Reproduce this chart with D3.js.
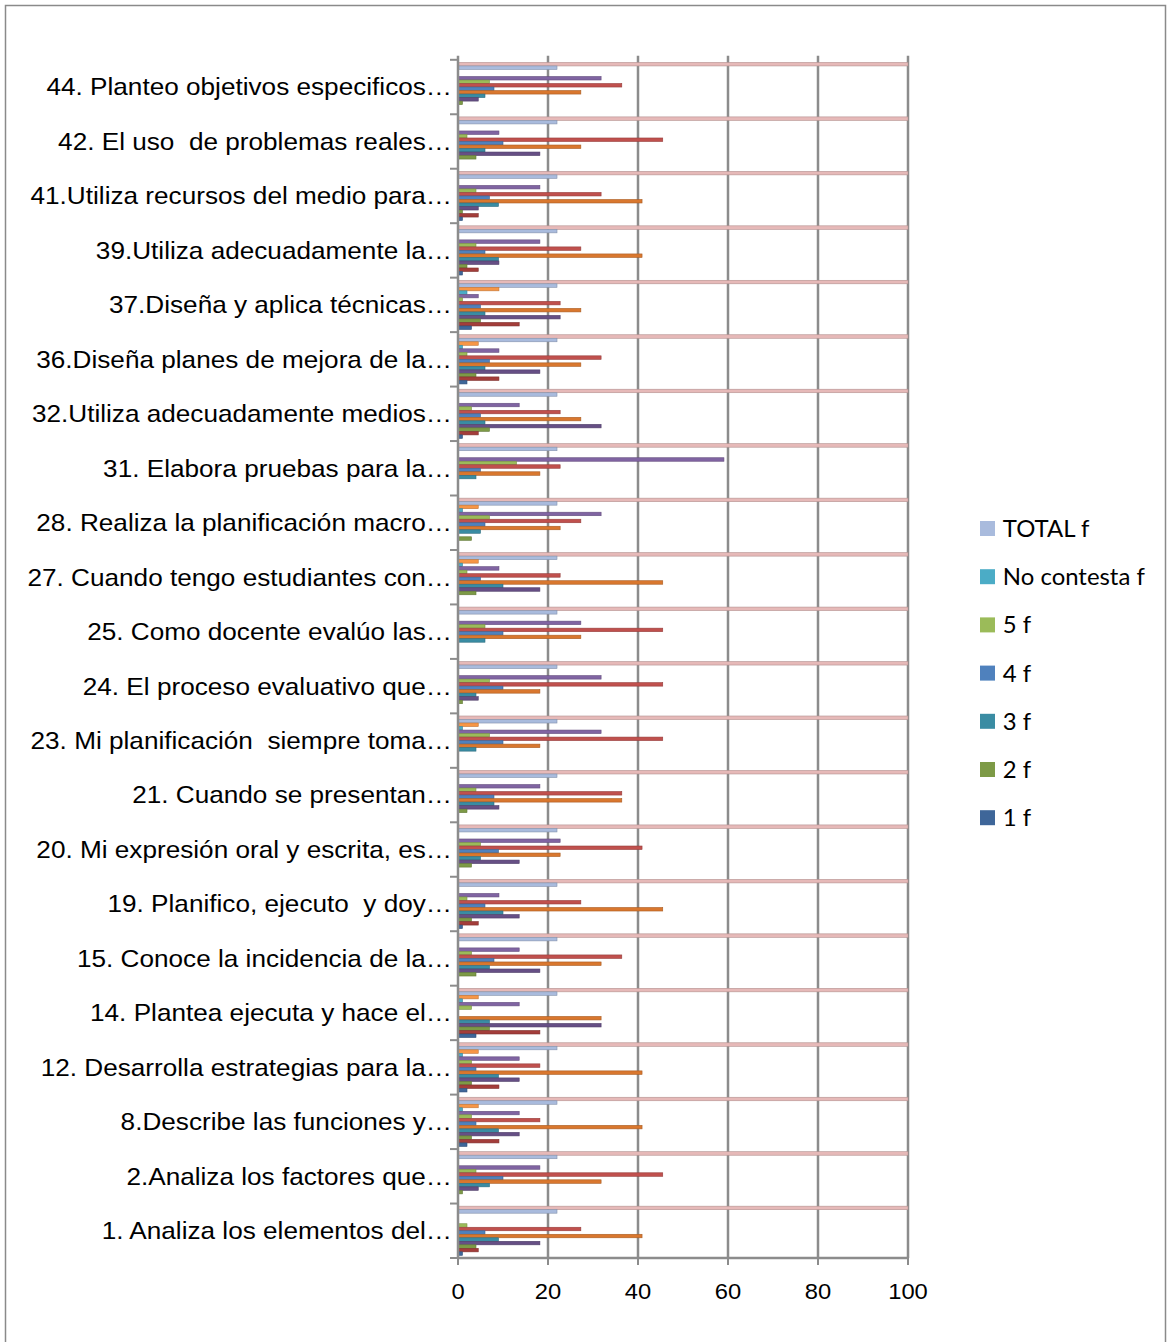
<!DOCTYPE html>
<html>
<head>
<meta charset="utf-8">
<script src="https://cdn.jsdelivr.net/npm/d3@7"></script>
<style>
  html, body { margin: 0; padding: 0; background: #fff; }
  svg { display: block; }
</style>
</head>
<body>
<svg id="chart" width="1172" height="1342"></svg>
<script>
// Survey items, listed top to bottom as they appear on the chart
const categories = [
  "44. Planteo objetivos especificos…",
  "42. El uso  de problemas reales…",
  "41.Utiliza recursos del medio para…",
  "39.Utiliza adecuadamente la…",
  "37.Diseña y aplica técnicas…",
  "36.Diseña planes de mejora de la…",
  "32.Utiliza adecuadamente medios…",
  "31. Elabora pruebas para la…",
  "28. Realiza la planificación macro…",
  "27. Cuando tengo estudiantes con…",
  "25. Como docente evalúo las…",
  "24. El proceso evaluativo que…",
  "23. Mi planificación  siempre toma…",
  "21. Cuando se presentan…",
  "20. Mi expresión oral y escrita, es…",
  "19. Planifico, ejecuto  y doy…",
  "15. Conoce la incidencia de la…",
  "14. Plantea ejecuta y hace el…",
  "12. Desarrolla estrategias para la…",
  "8.Describe las funciones y…",
  "2.Analiza los factores que…",
  "1. Analiza los elementos del…"
];

// Frequencies (f) and percentages (%) per answer level, same order as categories
const f1     = [0, 0, 1, 1, 3, 2, 1, 0, 0, 0, 0, 0, 0, 0, 0, 1, 0, 4, 2, 2, 0, 1];
const p1     = [0, 0, 4.5, 4.5, 13.6, 9.1, 4.5, 0, 0, 0, 0, 0, 0, 0, 0, 4.5, 0, 18.2, 9.1, 9.1, 0, 4.5];
const f2     = [1, 4, 1, 2, 5, 4, 7, 0, 3, 4, 0, 1, 0, 2, 3, 3, 4, 7, 3, 3, 1, 4];
const p2     = [4.5, 18.2, 4.5, 9.1, 22.7, 18.2, 31.8, 0, 0, 18.2, 0, 4.5, 0, 9.1, 13.6, 13.6, 18.2, 31.8, 13.6, 13.6, 4.5, 18.2];
const f3     = [6, 6, 9, 9, 6, 6, 6, 4, 5, 10, 6, 4, 4, 8, 5, 10, 7, 7, 9, 9, 7, 9];
const p3     = [27.3, 27.3, 40.9, 40.9, 27.3, 27.3, 27.3, 18.2, 22.7, 45.5, 27.3, 18.2, 18.2, 36.4, 22.7, 45.5, 31.8, 31.8, 40.9, 40.9, 31.8, 40.9];
const f4     = [8, 10, 7, 6, 5, 7, 5, 5, 6, 5, 10, 10, 10, 8, 9, 6, 8, 0, 4, 4, 10, 6];
const p4     = [36.4, 45.5, 31.8, 27.3, 22.7, 31.8, 22.7, 22.7, 27.3, 22.7, 45.5, 45.5, 45.5, 36.4, 40.9, 27.3, 36.4, 0, 18.2, 18.2, 45.5, 27.3];
const f5     = [7, 2, 4, 4, 1, 2, 3, 13, 7, 2, 6, 7, 7, 4, 5, 2, 3, 3, 3, 3, 4, 2];
const p5     = [31.8, 9.1, 18.2, 18.2, 4.5, 9.1, 13.6, 59.1, 31.8, 9.1, 27.3, 31.8, 31.8, 18.2, 22.7, 9.1, 13.6, 13.6, 13.6, 13.6, 18.2, 0];
const ncF    = [0, 0, 0, 0, 2, 1, 0, 0, 1, 1, 0, 0, 1, 0, 0, 0, 0, 1, 1, 1, 0, 0];
const ncP    = [0, 0, 0, 0, 9.1, 4.5, 0, 0, 4.5, 4.5, 0, 0, 4.5, 0, 0, 0, 0, 4.5, 4.5, 4.5, 0, 0];
const totalF = [22, 22, 22, 22, 22, 22, 22, 22, 22, 22, 22, 22, 22, 22, 22, 22, 22, 22, 22, 22, 22, 22];
const totalP = [100, 100, 100, 100, 100, 100, 100, 100, 100, 100, 100, 100, 100, 100, 100, 100, 100, 100, 100, 100, 100, 100];

const xTicks = [0, 20, 40, 60, 80, 100];
const legendLabels = ["TOTAL f", "No contesta f", "5 f", "4 f", "3 f", "2 f", "1 f"];

// Series drawn within each group, top to bottom
const series = [
  { key: "TOTAL %",       values: totalP, color: "#E6B9B8" },
  { key: "TOTAL f",       values: totalF, color: "#A9BBDD" },
  { key: "No contesta %", values: ncP,    color: "#F79646" },
  { key: "No contesta f", values: ncF,    color: "#4BACC6" },
  { key: "5 %",           values: p5,     color: "#8064A2" },
  { key: "5 f",           values: f5,     color: "#9BBB59" },
  { key: "4 %",           values: p4,     color: "#C0504D" },
  { key: "4 f",           values: f4,     color: "#4F81BD" },
  { key: "3 %",           values: p3,     color: "#D9772E" },
  { key: "3 f",           values: f3,     color: "#3A8CA3" },
  { key: "2 %",           values: p2,     color: "#664F85" },
  { key: "2 f",           values: f2,     color: "#7D9A46" },
  { key: "1 %",           values: p1,     color: "#A33D3A" },
  { key: "1 f",           values: f1,     color: "#3E6699" }
];

const svg = d3.select("#chart");

// Outer chart frame
svg.append("rect")
  .attr("x", 5.5).attr("y", 5.5)
  .attr("width", 1160).attr("height", 1360)
  .attr("fill", "#fff").attr("stroke", "#8a8a8a").attr("stroke-width", 1.5);

const plot = { left: 458, right: 908, top: 59.8, bottom: 1258 };

const x = d3.scaleLinear().domain([0, 100]).range([plot.left, plot.right]);
const y0 = d3.scaleBand().domain(categories).range([plot.top, plot.bottom]);
const y1 = d3.scaleBand().domain(series.map(s => s.key))
  .range([0, y0.bandwidth()]).paddingInner(0).paddingOuter(0.75);

const gridColor = "#8c8c8c";

// Vertical gridlines
svg.append("g")
  .selectAll("line")
  .data(xTicks.filter(t => t > 0))
  .join("line")
  .attr("x1", d => x(d)).attr("x2", d => x(d))
  .attr("y1", plot.top - 4).attr("y2", plot.bottom)
  .attr("stroke", gridColor).attr("stroke-width", 2.5);

// Bars
const groups = svg.append("g")
  .selectAll("g")
  .data(categories)
  .join("g")
  .attr("transform", d => `translate(0,${y0(d)})`);

groups.selectAll("rect")
  .data((c, i) => series.map(s => ({ key: s.key, value: s.values[i], color: s.color })))
  .join("rect")
  .attr("x", x(0) + 0.5)
  .attr("y", d => y1(d.key))
  .attr("width", d => Math.max(0, x(d.value) - x(0) - 0.5))
  .attr("height", y1.bandwidth())
  .attr("fill", d => d.color)
  .attr("stroke", d => d3.color(d.color).darker(0.7))
  .attr("stroke-width", 0.6);

// Category axis (left)
const yAxis = svg.append("g")
  .attr("transform", `translate(${plot.left},0)`);
yAxis.append("line")
  .attr("x1", 0).attr("x2", 0)
  .attr("y1", plot.top - 4).attr("y2", plot.bottom)
  .attr("stroke", gridColor).attr("stroke-width", 2.5);
yAxis.selectAll("line.tick")
  .data(categories.concat([null]))
  .join("line")
  .attr("class", "tick")
  .attr("x1", -8).attr("x2", 0)
  .attr("y1", (d, i) => i < categories.length ? y0(d) : plot.bottom)
  .attr("y2", (d, i) => i < categories.length ? y0(d) : plot.bottom)
  .attr("stroke", gridColor).attr("stroke-width", 2);
yAxis.selectAll("text")
  .data(categories)
  .join("text")
  .attr("transform", d => `translate(-6,${y0(d) + y0.bandwidth() / 2}) scale(1.09,1)`)
  .attr("dy", "0.35em")
  .attr("text-anchor", "end")
  .attr("font-family", "Liberation Sans, Arial, sans-serif")
  .attr("font-size", 24)
  .attr("fill", "#000")
  .style("white-space", "pre")
  .text(d => d);

// Value axis (bottom)
const xAxis = svg.append("g")
  .attr("transform", `translate(0,${plot.bottom})`);
xAxis.append("line")
  .attr("x1", plot.left - 1).attr("x2", plot.right + 1)
  .attr("y1", 0).attr("y2", 0)
  .attr("stroke", gridColor).attr("stroke-width", 2.5);
xAxis.selectAll("line.tick")
  .data(xTicks)
  .join("line")
  .attr("class", "tick")
  .attr("x1", d => x(d)).attr("x2", d => x(d))
  .attr("y1", 0).attr("y2", 7)
  .attr("stroke", gridColor).attr("stroke-width", 2);
xAxis.selectAll("text")
  .data(xTicks)
  .join("text")
  .attr("transform", d => `translate(${x(d)},41) scale(1.08,1)`)
  .attr("text-anchor", "middle")
  .attr("font-family", "Liberation Sans, Arial, sans-serif")
  .attr("font-size", 22)
  .attr("fill", "#000")
  .text(d => d);

// Legend
const legendColor = label => series.find(s => s.key === label).color;
const legend = svg.append("g").attr("transform", "translate(980,529)");
const item = legend.selectAll("g")
  .data(legendLabels)
  .join("g")
  .attr("transform", (d, i) => `translate(0,${i * 48.2})`);
item.append("rect")
  .attr("x", 0).attr("y", -8)
  .attr("width", 15).attr("height", 15)
  .attr("fill", d => legendColor(d));
item.append("text")
  .attr("x", 22).attr("y", 0)
  .attr("dy", "0.35em")
  .attr("font-family", "Lato, Carlito, sans-serif")
  .attr("font-size", 23)
  .attr("fill", "#000")
  .attr("transform", "scale(1.04,1)")
  .text(d => d);
</script>
</body>
</html>
